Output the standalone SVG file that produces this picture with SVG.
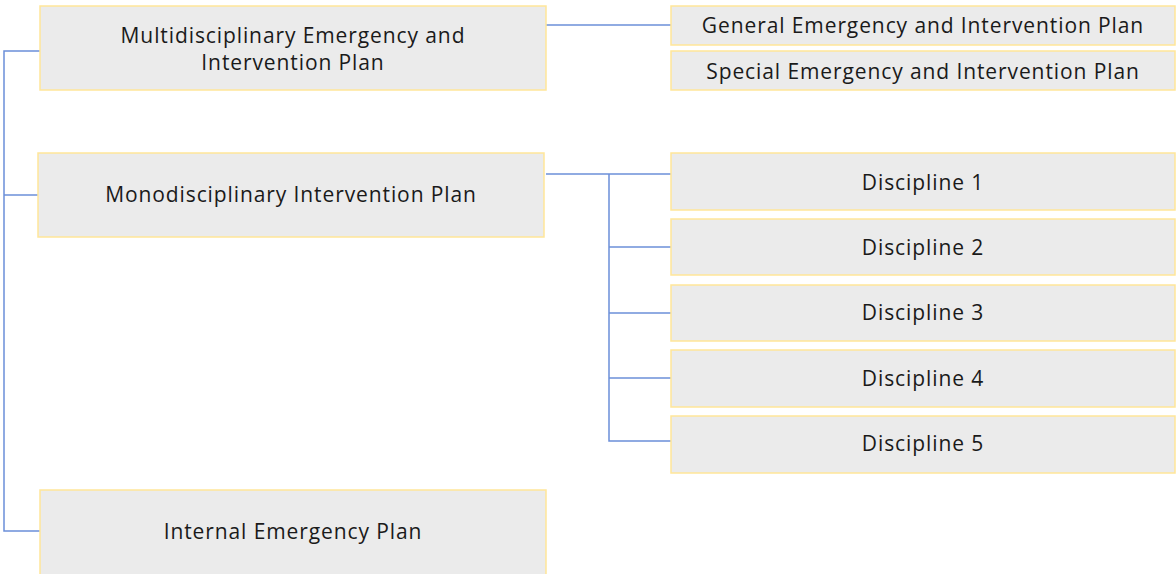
<svg xmlns="http://www.w3.org/2000/svg" width="1176" height="574" viewBox="0 0 1176 574">
  <style>
    .box { fill: #EBEBEB; stroke: #FFE699; stroke-width: 1.5; }
    .lbl { font-family: "Open Sans", "Noto Sans", sans-serif; font-size: 21px; letter-spacing: 0.9px; fill: #1a1a1a; text-anchor: middle; dominant-baseline: central; }
    .link { fill: none; stroke: #6B8FD9; stroke-width: 1.5; }
  </style>
  <rect width="1176" height="574" fill="#FFFFFF"/>

  <!-- connectors -->
  <g id="connectors">
    <path class="link" d="M40,51 H4 V531 H40"/>
    <path class="link" d="M4,195 H38"/>
    <path class="link" d="M546,25 H671"/>
    <path class="link" d="M546,174 H671"/>
    <path class="link" d="M609,174 V441 H671"/>
    <path class="link" d="M609,247 H671"/>
    <path class="link" d="M609,313 H671"/>
    <path class="link" d="M609,378 H671"/>
  </g>

  <!-- plan types -->
  <g id="multi">
    <rect class="box" x="40" y="6" width="506" height="84"/>
    <text class="lbl" x="293" y="35">Multidisciplinary Emergency and</text>
    <text class="lbl" x="293" y="62">Intervention Plan</text>
  </g>
  <g id="general">
    <rect class="box" x="671" y="6" width="504" height="39"/>
    <text class="lbl" x="923" y="25">General Emergency and Intervention Plan</text>
  </g>
  <g id="special">
    <rect class="box" x="671" y="51" width="504" height="39"/>
    <text class="lbl" x="923" y="71">Special Emergency and Intervention Plan</text>
  </g>
  <g id="mono">
    <rect class="box" x="38" y="153" width="506" height="84"/>
    <text class="lbl" x="291" y="194">Monodisciplinary Intervention Plan</text>
  </g>
  <g id="d1">
    <rect class="box" x="671" y="153" width="504" height="57"/>
    <text class="lbl" x="923" y="182">Discipline 1</text>
  </g>
  <g id="d2">
    <rect class="box" x="671" y="219" width="504" height="56"/>
    <text class="lbl" x="923" y="247">Discipline 2</text>
  </g>
  <g id="d3">
    <rect class="box" x="671" y="285" width="504" height="56"/>
    <text class="lbl" x="923" y="312">Discipline 3</text>
  </g>
  <g id="d4">
    <rect class="box" x="671" y="350" width="504" height="57"/>
    <text class="lbl" x="923" y="378">Discipline 4</text>
  </g>
  <g id="d5">
    <rect class="box" x="671" y="416" width="504" height="57"/>
    <text class="lbl" x="923" y="443">Discipline 5</text>
  </g>
  <g id="internal">
    <rect class="box" x="40" y="490" width="506" height="90"/>
    <text class="lbl" x="293" y="531">Internal Emergency Plan</text>
  </g>
</svg>
